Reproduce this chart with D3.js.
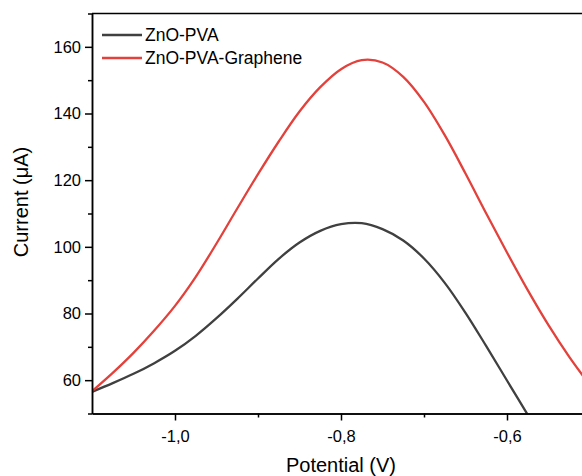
<!DOCTYPE html>
<html>
<head>
<meta charset="utf-8">
<script src="https://cdn.jsdelivr.net/npm/d3@7"></script>
<style>
body { margin: 0; background: #fff; }
text { font-family: "Liberation Sans", Arial, sans-serif; fill: #000; }
.axis path, .axis line { stroke: #000; stroke-width: 1.5; }
</style>
</head>
<body>
<div id="chart"></div>
<script>
var w = 582;
var h = 476;

// potential (V) values
var potential = [-1.1, -1.075, -1.05, -1.025, -1.0, -0.975, -0.95, -0.925, -0.9, -0.875,
    -0.85, -0.825, -0.8, -0.775, -0.75, -0.725, -0.7, -0.675, -0.65, -0.625,
    -0.6, -0.575, -0.55, -0.525, -0.5];
// current (uA)
var znoPva = [56.5, 59.1, 61.9, 65.1, 68.8, 73.3, 78.6, 84.4, 90.5, 96.4,
    101.3, 104.8, 106.8, 107.1, 105.3, 101.9, 96.5, 89.2, 80.2, 70.2,
    59.9, 49.6, 39.3, 29, 19];
var znoPvaGraphene = [56.7, 62.2, 68.2, 74.9, 82.3, 91.0, 101.0, 111.5, 121.8, 131.6,
    140.6, 147.9, 153.3, 156.0, 155.3, 151.0, 143.5, 133.5, 122.0, 110.0,
    98.3, 87.0, 76.5, 67.0, 58.5];
var seriesNames = ["ZnO-PVA", "ZnO-PVA-Graphene"];
var colors = ["#404040", "#e2423b"];
var xTicks = [-1.0, -0.8, -0.6];
var xMinor = [-0.9, -0.7, -0.5];
var yTicks = [60, 80, 100, 120, 140, 160];
var yMinor = [50, 70, 90, 110, 130, 150, 170];

var svg = d3.select("#chart").append("svg")
    .attr("width", w)
    .attr("height", h);

var padLeft = 92, padTop = 13.5, padBottom = 413.5, padRight = 590;

var xScale = d3.scaleLinear().domain([-1.1, -0.5]).range([padLeft, padRight]);
var yScale = d3.scaleLinear().domain([50, 170]).range([padBottom, padTop]);

svg.append("clipPath").attr("id", "clip")
    .append("rect")
    .attr("x", padLeft).attr("y", padTop)
    .attr("width", padRight - padLeft).attr("height", padBottom - padTop);

// lines
var series = [znoPva, znoPvaGraphene];
series.forEach(function(vals, i) {
    var data = potential.map(function(p, j) { return {x: p, y: vals[j]}; });
    var line = d3.line()
        .curve(d3.curveCatmullRom.alpha(0.5))
        .x(function(d) { return xScale(d.x); })
        .y(function(d) { return yScale(d.y); });
    svg.append("path")
        .datum(data)
        .attr("clip-path", "url(#clip)")
        .attr("fill", "none")
        .attr("stroke", colors[i])
        .attr("stroke-width", 2.3)
        .attr("d", line);
});

// frame top / right
svg.append("line").attr("x1", padLeft).attr("x2", padRight).attr("y1", padTop).attr("y2", padTop)
    .attr("stroke", "#000").attr("stroke-width", 1.5);
svg.append("line").attr("x1", padRight).attr("x2", padRight).attr("y1", padTop).attr("y2", padBottom)
    .attr("stroke", "#000").attr("stroke-width", 1.5);

var fmtX = function(v) { return v.toFixed(1).replace(".", ","); };

// x axis
svg.append("g").attr("class", "axis")
    .attr("transform", "translate(0," + padBottom + ")")
    .call(d3.axisBottom(xScale).tickValues(xMinor).tickSize(4).tickFormat("").tickSizeOuter(0));
var gx = svg.append("g").attr("class", "axis")
    .attr("transform", "translate(0," + padBottom + ")")
    .call(d3.axisBottom(xScale).tickValues(xTicks).tickSize(7).tickPadding(10)
        .tickFormat(fmtX).tickSizeOuter(0));
gx.selectAll("text").style("font-size", "16.5px");

// y axis
svg.append("g").attr("class", "axis")
    .attr("transform", "translate(" + padLeft + ",0)")
    .call(d3.axisLeft(yScale).tickValues(yMinor).tickSize(4).tickFormat("").tickSizeOuter(0));
var gy = svg.append("g").attr("class", "axis")
    .attr("transform", "translate(" + padLeft + ",0)")
    .call(d3.axisLeft(yScale).tickValues(yTicks).tickSize(7).tickPadding(4).tickSizeOuter(0));
gy.selectAll("text").style("font-size", "16.5px");

// axis titles
svg.append("text")
    .attr("x", 341).attr("y", 472)
    .attr("text-anchor", "middle")
    .style("font-size", "20px")
    .text("Potential (V)");
svg.append("text")
    .attr("transform", "translate(28,202) rotate(-90)")
    .attr("text-anchor", "middle")
    .style("font-size", "20px")
    .text("Current (\u03bcA)");

// legend
seriesNames.forEach(function(name, i) {
    var ly = 35 + i * 23;
    svg.append("line")
        .attr("x1", 102).attr("x2", 142).attr("y1", ly).attr("y2", ly)
        .attr("stroke", colors[i]).attr("stroke-width", 2.3);
    svg.append("text")
        .attr("x", 145).attr("y", ly + 6)
        .style("font-size", "17.5px")
        .text(name);
});
</script>
</body>
</html>
